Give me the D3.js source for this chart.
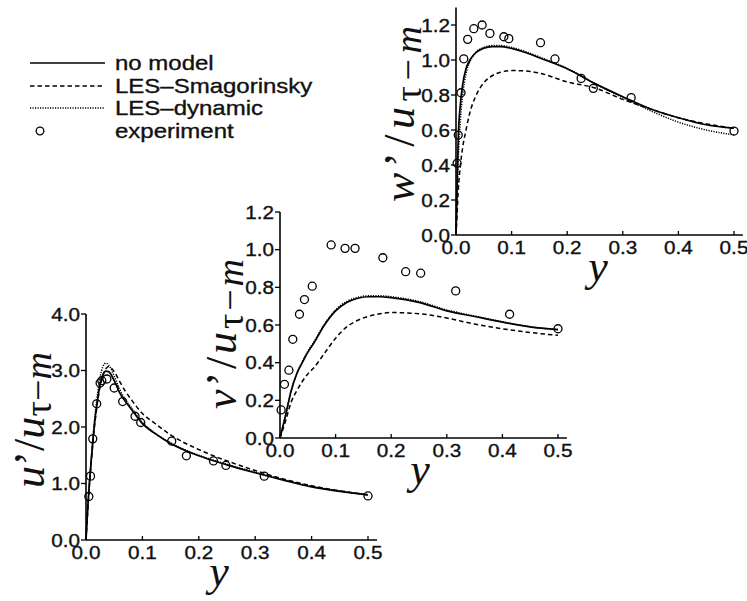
<!DOCTYPE html>
<html><head><meta charset="utf-8">
<script src="https://cdn.jsdelivr.net/npm/d3@7/dist/d3.min.js"></script>
<style>body{margin:0;background:#fff}svg{display:block}</style>
</head><body>
<svg id="c" width="747" height="601"></svg>
<script>
// ---------- DATA ----------
const seriesNames = ["no model", "LES\u2013Smagorinsky", "LES\u2013dynamic", "experiment"];

// u' panel
const uX = [0, 0.003, 0.006, 0.01, 0.015, 0.02, 0.025, 0.03, 0.035, 0.04, 0.05, 0.06, 0.07, 0.08, 0.1, 0.12, 0.15, 0.2, 0.25, 0.3, 0.35, 0.4, 0.45, 0.5];
const uNoModel = [0, 0.55, 1.0, 1.5, 2.05, 2.45, 2.75, 2.92, 2.99, 2.98, 2.82, 2.6, 2.45, 2.32, 2.06, 1.9, 1.71, 1.49, 1.33, 1.19, 1.06, 0.94, 0.86, 0.8];
const uSmag = [0, 0.5, 0.95, 1.45, 2.0, 2.4, 2.72, 2.92, 3.03, 3.07, 2.98, 2.8, 2.63, 2.49, 2.24, 2.08, 1.86, 1.6, 1.4, 1.23, 1.08, 0.96, 0.87, 0.8];
const uDyn = [0, 0.55, 1.0, 1.52, 2.1, 2.55, 2.88, 3.07, 3.13, 3.1, 2.9, 2.66, 2.48, 2.35, 2.08, 1.91, 1.72, 1.5, 1.34, 1.2, 1.07, 0.95, 0.87, 0.8];
const uExpX = [0.005, 0.008, 0.012, 0.019, 0.025, 0.028, 0.037, 0.05, 0.065, 0.087, 0.097, 0.152, 0.178, 0.226, 0.248, 0.316, 0.5];
const uExpY = [0.77, 1.13, 1.79, 2.41, 2.78, 2.82, 2.85, 2.69, 2.45, 2.19, 2.08, 1.75, 1.49, 1.40, 1.32, 1.13, 0.78];

// v' panel
const vX = [0, 0.01, 0.02, 0.03, 0.04, 0.05, 0.06, 0.08, 0.1, 0.12, 0.14, 0.16, 0.18, 0.2, 0.25, 0.3, 0.35, 0.4, 0.45, 0.5];
const vNoModel = [0, 0.12, 0.25, 0.34, 0.4, 0.455, 0.5, 0.6, 0.675, 0.72, 0.742, 0.75, 0.75, 0.745, 0.72, 0.675, 0.645, 0.615, 0.59, 0.575];
const vSmag = [0, 0.09, 0.19, 0.25, 0.3, 0.34, 0.37, 0.45, 0.53, 0.59, 0.625, 0.647, 0.66, 0.666, 0.66, 0.637, 0.605, 0.58, 0.56, 0.545];
const vDyn = [0, 0.12, 0.25, 0.34, 0.405, 0.46, 0.505, 0.605, 0.68, 0.725, 0.747, 0.755, 0.755, 0.75, 0.725, 0.68, 0.648, 0.617, 0.59, 0.575];
const vExpX = [0.002, 0.008, 0.016, 0.023, 0.035, 0.044, 0.058, 0.092, 0.117, 0.135, 0.185, 0.226, 0.253, 0.316, 0.413, 0.5];
const vExpY = [0.149, 0.285, 0.36, 0.524, 0.657, 0.735, 0.806, 1.025, 1.007, 1.007, 0.957, 0.883, 0.875, 0.781, 0.657, 0.58];

// w' panel
const wX = [0, 0.002, 0.004, 0.008, 0.012, 0.018, 0.025, 0.035, 0.05, 0.065, 0.08, 0.1, 0.125, 0.15, 0.2, 0.25, 0.3, 0.35, 0.4, 0.45, 0.5];
const wNoModel = [0, 0.3, 0.55, 0.75, 0.86, 0.95, 1.0, 1.04, 1.068, 1.077, 1.077, 1.066, 1.043, 1.013, 0.95, 0.865, 0.79, 0.72, 0.67, 0.63, 0.61];
const wSmag = [0, 0.12, 0.25, 0.4, 0.5, 0.6, 0.7, 0.79, 0.87, 0.91, 0.93, 0.94, 0.937, 0.925, 0.875, 0.84, 0.775, 0.72, 0.67, 0.635, 0.61];
const wDyn = [0, 0.2, 0.42, 0.66, 0.8, 0.92, 0.99, 1.04, 1.072, 1.083, 1.083, 1.072, 1.048, 1.017, 0.952, 0.865, 0.785, 0.71, 0.645, 0.6, 0.572];
const wExpX = [0.002, 0.004, 0.009, 0.014, 0.021, 0.032, 0.047, 0.061, 0.086, 0.095, 0.152, 0.178, 0.225, 0.247, 0.315, 0.5];
const wExpY = [0.41, 0.571, 0.813, 1.007, 1.118, 1.179, 1.2, 1.152, 1.133, 1.122, 1.099, 1.006, 0.895, 0.838, 0.785, 0.594];

const xTicks = [0, 0.1, 0.2, 0.3, 0.4, 0.5];
const uTicks = [0, 1, 2, 3, 4];
const vTicks = [0, 0.2, 0.4, 0.6, 0.8, 1.0, 1.2];
const wTicks = [0, 0.2, 0.4, 0.6, 0.8, 1.0, 1.2];

// ---------- DRAW ----------
const svg = d3.select("#c");
const SANS = "'Liberation Sans', Arial, Helvetica, sans-serif";
const SERIF = "'Liberation Serif', 'Times New Roman', serif";
const styles = [
  {dash: null, w: 1.7},
  {dash: "4.5,3", w: 1.5},
  {dash: "1.2,1.3", w: 1.5}
];

function stext(g, x, y, str, anchor, size, sx) {
  return g.append("text")
    .attr("transform", `translate(${x},${y}) scale(${sx},1)`)
    .attr("text-anchor", anchor)
    .attr("font-family", SANS).attr("font-size", size)
    .attr("fill", "#111").attr("stroke", "#111").attr("stroke-width", 0.35)
    .text(str);
}

function panel(cfg) {
  const g = svg.append("g");
  const x = d3.scaleLinear().domain([0, 0.5]).range([cfg.x0, cfg.x1]);
  const y = d3.scaleLinear().domain([0, cfg.ymax]).range([cfg.y0, cfg.y1]);
  // axes lines
  g.append("line").attr("x1", x(0)).attr("x2", x(0.516)).attr("y1", y(0)).attr("y2", y(0))
    .attr("stroke", "#000").attr("stroke-width", 1.6);
  g.append("line").attr("x1", x(0)).attr("x2", x(0)).attr("y1", y(0)).attr("y2", y(cfg.axisTop))
    .attr("stroke", "#000").attr("stroke-width", 1.6);
  // y ticks
  cfg.yTicks.forEach(t => {
    g.append("line").attr("x1", x(0) - 5).attr("x2", x(0)).attr("y1", y(t)).attr("y2", y(t))
      .attr("stroke", "#000").attr("stroke-width", 1.3);
    stext(g, x(0) - 6, y(t) + 6.5, d3.format(".1f")(t), "end", 18.5, 1.12);
  });
  // x ticks
  xTicks.forEach(t => {
    g.append("line").attr("x1", x(t)).attr("x2", x(t)).attr("y1", y(0)).attr("y2", y(0) - 4)
      .attr("stroke", "#000").attr("stroke-width", 1.3);
    stext(g, x(t), y(0) + 19, d3.format(".1f")(t), "middle", 18.5, 1.12);
  });
  // curves
  const line = d3.line().x(d => x(d[0])).y(d => y(d[1])).curve(d3.curveMonotoneX);
  cfg.curves.forEach((vals, i) => {
    g.append("path").datum(cfg.cx.map((xx, k) => [xx, vals[k]]))
      .attr("d", line).attr("fill", "none").attr("stroke", "#000")
      .attr("stroke-width", styles[i].w)
      .attr("stroke-dasharray", styles[i].dash);
  });
  // experiment
  g.selectAll("circle.e").data(cfg.ex.map((xx, k) => [xx, cfg.ey[k]])).enter()
    .append("circle").attr("cx", d => x(d[0])).attr("cy", d => y(d[1])).attr("r", 4)
    .attr("fill", "none").attr("stroke", "#000").attr("stroke-width", 1.3);
  // y label
  const lab = g.append("text")
    .attr("transform", `translate(${cfg.lx},${cfg.ly}) rotate(-90)`)
    .attr("text-anchor", "middle").attr("font-family", SERIF).attr("fill", "#111")
    .attr("textLength", cfg.llen).attr("lengthAdjust", "spacing");
  lab.append("tspan").attr("font-style", "italic").attr("font-size", 44).text(cfg.sym);
  lab.append("tspan").attr("font-size", 44).text("\u2019/");
  lab.append("tspan").attr("font-style", "italic").attr("font-size", 44).text("u");
  lab.append("tspan").attr("font-size", 38).attr("dy", 7).text("\u03C4\u2212");
  lab.append("tspan").attr("font-style", "italic").attr("font-size", 38).text("m");
  // x label
  g.append("text").attr("x", cfg.yx).attr("y", y(0) + 46).attr("text-anchor", "middle")
    .attr("font-family", SERIF).attr("font-style", "italic").attr("font-size", 44)
    .attr("fill", "#111").text("y");
}

panel({x0: 86, x1: 368, y0: 540, y1: 314, ymax: 4, axisTop: 4, yTicks: uTicks,
  cx: uX, curves: [uNoModel, uSmag, uDyn], ex: uExpX, ey: uExpY,
  sym: "u", lx: 44, ly: 420, llen: 136, yx: 219});
panel({x0: 280, x1: 558, y0: 438, y1: 212, ymax: 1.2, axisTop: 1.2, yTicks: vTicks,
  cx: vX, curves: [vNoModel, vSmag, vDyn], ex: vExpX, ey: vExpY,
  sym: "v", lx: 236, ly: 334, llen: 150, yx: 420});
panel({x0: 456, x1: 734, y0: 235, y1: 25, ymax: 1.2, axisTop: 1.3, yTicks: wTicks,
  cx: wX, curves: [wNoModel, wSmag, wDyn], ex: wExpX, ey: wExpY,
  sym: "w", lx: 414, ly: 114, llen: 176, yx: 598});

// legend
const leg = svg.append("g");
const rowsY = [63, 86, 108, 131];
seriesNames.forEach((name, i) => {
  const yy = rowsY[i];
  if (i < 3) {
    leg.append("line").attr("x1", 30).attr("x2", 105).attr("y1", yy).attr("y2", yy)
      .attr("stroke", "#000").attr("stroke-width", i === 0 ? 1.5 : 1.3)
      .attr("stroke-dasharray", styles[i].dash);
  } else {
    leg.append("circle").attr("cx", 40).attr("cy", yy).attr("r", 3.8)
      .attr("fill", "none").attr("stroke", "#000").attr("stroke-width", 1.3);
  }
  stext(leg, 115, yy + 7, name, "start", 20, 1.2);
});
</script>
</body></html>
